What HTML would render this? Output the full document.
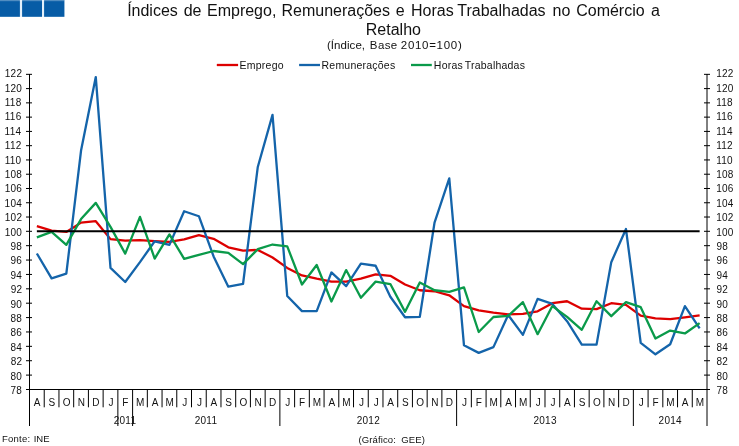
<!DOCTYPE html>
<html><head><meta charset="utf-8">
<style>
html,body{margin:0;padding:0;background:#fff;}
body{width:739px;height:446px;overflow:hidden;position:relative;}
svg{position:absolute;left:0;top:0;will-change:transform;font-family:"Liberation Sans",sans-serif;}
text{fill:#111111;}
.tk{stroke:#000;stroke-width:1;}
.sq{fill:#075ca6;}
</style></head><body>
<svg width="739" height="446" viewBox="0 0 739 446">
<rect x="0" y="0" width="64.4" height="16.8" fill="#e4f0fa"/>
<rect class="sq" x="0" y="0" width="19.9" height="16.8"/>
<rect class="sq" x="22.1" y="0" width="19.9" height="16.8"/>
<rect class="sq" x="44.1" y="0" width="20.3" height="16.8"/>
<rect x="0" y="0" width="64.4" height="1.2" fill="#ffffff" fill-opacity="0.3"/>
<text x="127.14" y="16.00" style="font-size:16px">Índices</text>
<text x="183.73" y="16.00" style="font-size:16px">de</text>
<text x="206.99" y="16.00" style="font-size:16px">Emprego,</text>
<text x="281.49" y="16.00" style="font-size:16px">Remunerações</text>
<text x="395.82" y="16.00" style="font-size:16px">e</text>
<text x="410.99" y="16.00" style="font-size:16px">Horas</text>
<text x="457.24" y="16.00" style="font-size:16px">Trabalhadas</text>
<text x="552.54" y="16.00" style="font-size:16px">no</text>
<text x="576.19" y="16.00" style="font-size:16px">Comércio</text>
<text x="651.12" y="16.00" style="font-size:16px">a</text>
<text x="365.79" y="34.70" style="font-size:16px">Retalho</text>
<text x="326.99" y="49.40" style="font-size:11.5px;letter-spacing:0.05px">(Índice,</text>
<text x="369.86" y="49.40" style="font-size:11.5px;letter-spacing:0.35px">Base</text>
<text x="400.82" y="49.40" style="font-size:11.5px;letter-spacing:0.7px">2010=100)</text>
<line x1="216.8" y1="65" x2="238.1" y2="65" stroke="#dd0000" stroke-width="2.3"/>
<line x1="299.1" y1="65" x2="320" y2="65" stroke="#1464aa" stroke-width="2.3"/>
<line x1="411" y1="65" x2="431.8" y2="65" stroke="#0a9a4a" stroke-width="2.3"/>
<text x="239.54" y="68.80" style="font-size:10.5px;letter-spacing:0.25px">Emprego</text>
<text x="321.54" y="68.80" style="font-size:10.5px;letter-spacing:0.22px">Remunerações</text>
<text x="433.84" y="68.80" style="font-size:10.5px;letter-spacing:0.22px">Horas</text>
<text x="464.76" y="68.80" style="font-size:10.5px;letter-spacing:0.22px">Trabalhadas</text>
<text x="10.56" y="394.00" style="font-size:10px;letter-spacing:0.25px">78</text>
<text x="716.49" y="394.00" style="font-size:10px;letter-spacing:0.25px">78</text>
<line x1="26" y1="375.10" x2="32" y2="375.10" class="tk"/>
<line x1="704" y1="375.10" x2="710" y2="375.10" class="tk"/>
<text x="10.52" y="379.60" style="font-size:10px;letter-spacing:0.25px">80</text>
<text x="716.57" y="379.60" style="font-size:10px;letter-spacing:0.25px">80</text>
<line x1="26" y1="360.72" x2="32" y2="360.72" class="tk"/>
<line x1="704" y1="360.72" x2="710" y2="360.72" class="tk"/>
<text x="10.63" y="365.20" style="font-size:10px;letter-spacing:0.25px">82</text>
<text x="716.57" y="365.20" style="font-size:10px;letter-spacing:0.25px">82</text>
<line x1="26" y1="346.34" x2="32" y2="346.34" class="tk"/>
<line x1="704" y1="346.34" x2="710" y2="346.34" class="tk"/>
<text x="10.42" y="350.80" style="font-size:10px;letter-spacing:0.25px">84</text>
<text x="716.57" y="350.80" style="font-size:10px;letter-spacing:0.25px">84</text>
<line x1="26" y1="331.96" x2="32" y2="331.96" class="tk"/>
<line x1="704" y1="331.96" x2="710" y2="331.96" class="tk"/>
<text x="10.57" y="336.40" style="font-size:10px;letter-spacing:0.25px">86</text>
<text x="716.57" y="336.40" style="font-size:10px;letter-spacing:0.25px">86</text>
<line x1="26" y1="317.58" x2="32" y2="317.58" class="tk"/>
<line x1="704" y1="317.58" x2="710" y2="317.58" class="tk"/>
<text x="10.56" y="322.00" style="font-size:10px;letter-spacing:0.25px">88</text>
<text x="716.57" y="322.00" style="font-size:10px;letter-spacing:0.25px">88</text>
<line x1="26" y1="303.20" x2="32" y2="303.20" class="tk"/>
<line x1="704" y1="303.20" x2="710" y2="303.20" class="tk"/>
<text x="10.52" y="307.60" style="font-size:10px;letter-spacing:0.25px">90</text>
<text x="716.53" y="307.60" style="font-size:10px;letter-spacing:0.25px">90</text>
<line x1="26" y1="288.82" x2="32" y2="288.82" class="tk"/>
<line x1="704" y1="288.82" x2="710" y2="288.82" class="tk"/>
<text x="10.63" y="293.20" style="font-size:10px;letter-spacing:0.25px">92</text>
<text x="716.53" y="293.20" style="font-size:10px;letter-spacing:0.25px">92</text>
<line x1="26" y1="274.44" x2="32" y2="274.44" class="tk"/>
<line x1="704" y1="274.44" x2="710" y2="274.44" class="tk"/>
<text x="10.42" y="278.80" style="font-size:10px;letter-spacing:0.25px">94</text>
<text x="716.53" y="278.80" style="font-size:10px;letter-spacing:0.25px">94</text>
<line x1="26" y1="260.06" x2="32" y2="260.06" class="tk"/>
<line x1="704" y1="260.06" x2="710" y2="260.06" class="tk"/>
<text x="10.57" y="264.40" style="font-size:10px;letter-spacing:0.25px">96</text>
<text x="716.53" y="264.40" style="font-size:10px;letter-spacing:0.25px">96</text>
<line x1="26" y1="245.68" x2="32" y2="245.68" class="tk"/>
<line x1="704" y1="245.68" x2="710" y2="245.68" class="tk"/>
<text x="10.56" y="250.00" style="font-size:10px;letter-spacing:0.25px">98</text>
<text x="716.53" y="250.00" style="font-size:10px;letter-spacing:0.25px">98</text>
<line x1="26" y1="231.30" x2="32" y2="231.30" class="tk"/>
<line x1="704" y1="231.30" x2="710" y2="231.30" class="tk"/>
<text x="4.71" y="235.60" style="font-size:10px;letter-spacing:0.25px">100</text>
<text x="716.24" y="235.60" style="font-size:10px;letter-spacing:0.25px">100</text>
<line x1="26" y1="217.03" x2="32" y2="217.03" class="tk"/>
<line x1="704" y1="217.03" x2="710" y2="217.03" class="tk"/>
<text x="4.82" y="221.20" style="font-size:10px;letter-spacing:0.25px">102</text>
<text x="716.24" y="221.20" style="font-size:10px;letter-spacing:0.25px">102</text>
<line x1="26" y1="202.76" x2="32" y2="202.76" class="tk"/>
<line x1="704" y1="202.76" x2="710" y2="202.76" class="tk"/>
<text x="4.61" y="206.80" style="font-size:10px;letter-spacing:0.25px">104</text>
<text x="716.24" y="206.80" style="font-size:10px;letter-spacing:0.25px">104</text>
<line x1="26" y1="188.49" x2="32" y2="188.49" class="tk"/>
<line x1="704" y1="188.49" x2="710" y2="188.49" class="tk"/>
<text x="4.75" y="192.40" style="font-size:10px;letter-spacing:0.25px">106</text>
<text x="716.24" y="192.40" style="font-size:10px;letter-spacing:0.25px">106</text>
<line x1="26" y1="174.22" x2="32" y2="174.22" class="tk"/>
<line x1="704" y1="174.22" x2="710" y2="174.22" class="tk"/>
<text x="4.75" y="178.00" style="font-size:10px;letter-spacing:0.25px">108</text>
<text x="716.24" y="178.00" style="font-size:10px;letter-spacing:0.25px">108</text>
<line x1="26" y1="159.95" x2="32" y2="159.95" class="tk"/>
<line x1="704" y1="159.95" x2="710" y2="159.95" class="tk"/>
<text x="4.71" y="163.60" style="font-size:10px;letter-spacing:0.25px">110</text>
<text x="716.24" y="163.60" style="font-size:10px;letter-spacing:0.25px">110</text>
<line x1="26" y1="145.68" x2="32" y2="145.68" class="tk"/>
<line x1="704" y1="145.68" x2="710" y2="145.68" class="tk"/>
<text x="4.82" y="149.20" style="font-size:10px;letter-spacing:0.25px">112</text>
<text x="716.24" y="149.20" style="font-size:10px;letter-spacing:0.25px">112</text>
<line x1="26" y1="131.41" x2="32" y2="131.41" class="tk"/>
<line x1="704" y1="131.41" x2="710" y2="131.41" class="tk"/>
<text x="4.61" y="134.80" style="font-size:10px;letter-spacing:0.25px">114</text>
<text x="716.24" y="134.80" style="font-size:10px;letter-spacing:0.25px">114</text>
<line x1="26" y1="117.14" x2="32" y2="117.14" class="tk"/>
<line x1="704" y1="117.14" x2="710" y2="117.14" class="tk"/>
<text x="4.75" y="120.40" style="font-size:10px;letter-spacing:0.25px">116</text>
<text x="716.24" y="120.40" style="font-size:10px;letter-spacing:0.25px">116</text>
<line x1="26" y1="102.87" x2="32" y2="102.87" class="tk"/>
<line x1="704" y1="102.87" x2="710" y2="102.87" class="tk"/>
<text x="4.75" y="106.00" style="font-size:10px;letter-spacing:0.25px">118</text>
<text x="716.24" y="106.00" style="font-size:10px;letter-spacing:0.25px">118</text>
<line x1="26" y1="88.60" x2="32" y2="88.60" class="tk"/>
<line x1="704" y1="88.60" x2="710" y2="88.60" class="tk"/>
<text x="4.71" y="91.60" style="font-size:10px;letter-spacing:0.25px">120</text>
<text x="716.24" y="91.60" style="font-size:10px;letter-spacing:0.25px">120</text>
<line x1="26" y1="74.33" x2="32" y2="74.33" class="tk"/>
<line x1="704" y1="74.33" x2="710" y2="74.33" class="tk"/>
<text x="4.82" y="77.20" style="font-size:10px;letter-spacing:0.25px">122</text>
<text x="716.24" y="77.20" style="font-size:10px;letter-spacing:0.25px">122</text>
<line x1="44.23" y1="389.5" x2="44.23" y2="407.3" class="tk"/>
<line x1="58.96" y1="389.5" x2="58.96" y2="407.3" class="tk"/>
<line x1="73.68" y1="389.5" x2="73.68" y2="407.3" class="tk"/>
<line x1="88.41" y1="389.5" x2="88.41" y2="407.3" class="tk"/>
<line x1="103.14" y1="389.5" x2="103.14" y2="407.3" class="tk"/>
<line x1="117.87" y1="389.5" x2="117.87" y2="426" class="tk"/>
<line x1="132.60" y1="389.5" x2="132.60" y2="426" class="tk"/>
<line x1="147.33" y1="389.5" x2="147.33" y2="407.3" class="tk"/>
<line x1="162.05" y1="389.5" x2="162.05" y2="407.3" class="tk"/>
<line x1="176.78" y1="389.5" x2="176.78" y2="407.3" class="tk"/>
<line x1="191.51" y1="389.5" x2="191.51" y2="407.3" class="tk"/>
<line x1="206.24" y1="389.5" x2="206.24" y2="407.3" class="tk"/>
<line x1="220.97" y1="389.5" x2="220.97" y2="407.3" class="tk"/>
<line x1="235.70" y1="389.5" x2="235.70" y2="407.3" class="tk"/>
<line x1="250.42" y1="389.5" x2="250.42" y2="407.3" class="tk"/>
<line x1="265.15" y1="389.5" x2="265.15" y2="407.3" class="tk"/>
<line x1="279.88" y1="389.5" x2="279.88" y2="426" class="tk"/>
<line x1="294.61" y1="389.5" x2="294.61" y2="407.3" class="tk"/>
<line x1="309.34" y1="389.5" x2="309.34" y2="407.3" class="tk"/>
<line x1="324.07" y1="389.5" x2="324.07" y2="407.3" class="tk"/>
<line x1="338.79" y1="389.5" x2="338.79" y2="407.3" class="tk"/>
<line x1="353.52" y1="389.5" x2="353.52" y2="407.3" class="tk"/>
<line x1="368.25" y1="389.5" x2="368.25" y2="407.3" class="tk"/>
<line x1="382.98" y1="389.5" x2="382.98" y2="407.3" class="tk"/>
<line x1="397.71" y1="389.5" x2="397.71" y2="407.3" class="tk"/>
<line x1="412.43" y1="389.5" x2="412.43" y2="407.3" class="tk"/>
<line x1="427.16" y1="389.5" x2="427.16" y2="407.3" class="tk"/>
<line x1="441.89" y1="389.5" x2="441.89" y2="407.3" class="tk"/>
<line x1="456.62" y1="389.5" x2="456.62" y2="426" class="tk"/>
<line x1="471.35" y1="389.5" x2="471.35" y2="407.3" class="tk"/>
<line x1="486.08" y1="389.5" x2="486.08" y2="407.3" class="tk"/>
<line x1="500.80" y1="389.5" x2="500.80" y2="407.3" class="tk"/>
<line x1="515.53" y1="389.5" x2="515.53" y2="407.3" class="tk"/>
<line x1="530.26" y1="389.5" x2="530.26" y2="407.3" class="tk"/>
<line x1="544.99" y1="389.5" x2="544.99" y2="407.3" class="tk"/>
<line x1="559.72" y1="389.5" x2="559.72" y2="407.3" class="tk"/>
<line x1="574.45" y1="389.5" x2="574.45" y2="407.3" class="tk"/>
<line x1="589.17" y1="389.5" x2="589.17" y2="407.3" class="tk"/>
<line x1="603.90" y1="389.5" x2="603.90" y2="407.3" class="tk"/>
<line x1="618.63" y1="389.5" x2="618.63" y2="407.3" class="tk"/>
<line x1="633.36" y1="389.5" x2="633.36" y2="426" class="tk"/>
<line x1="648.09" y1="389.5" x2="648.09" y2="407.3" class="tk"/>
<line x1="662.82" y1="389.5" x2="662.82" y2="407.3" class="tk"/>
<line x1="677.54" y1="389.5" x2="677.54" y2="407.3" class="tk"/>
<line x1="692.27" y1="389.5" x2="692.27" y2="407.3" class="tk"/>
<text x="33.83" y="406.00" style="font-size:10px">A</text>
<text x="48.56" y="406.00" style="font-size:10px">S</text>
<text x="62.73" y="406.00" style="font-size:10px">O</text>
<text x="77.74" y="406.00" style="font-size:10px">N</text>
<text x="92.30" y="406.00" style="font-size:10px">D</text>
<text x="108.60" y="406.00" style="font-size:10px">J</text>
<text x="122.27" y="406.00" style="font-size:10px">F</text>
<text x="136.10" y="406.00" style="font-size:10px">M</text>
<text x="151.66" y="406.00" style="font-size:10px">A</text>
<text x="165.55" y="406.00" style="font-size:10px">M</text>
<text x="182.24" y="406.00" style="font-size:10px">J</text>
<text x="196.97" y="406.00" style="font-size:10px">J</text>
<text x="210.57" y="406.00" style="font-size:10px">A</text>
<text x="225.30" y="406.00" style="font-size:10px">S</text>
<text x="239.47" y="406.00" style="font-size:10px">O</text>
<text x="254.47" y="406.00" style="font-size:10px">N</text>
<text x="269.03" y="406.00" style="font-size:10px">D</text>
<text x="285.34" y="406.00" style="font-size:10px">J</text>
<text x="299.01" y="406.00" style="font-size:10px">F</text>
<text x="312.84" y="406.00" style="font-size:10px">M</text>
<text x="328.39" y="406.00" style="font-size:10px">A</text>
<text x="342.29" y="406.00" style="font-size:10px">M</text>
<text x="358.98" y="406.00" style="font-size:10px">J</text>
<text x="373.71" y="406.00" style="font-size:10px">J</text>
<text x="387.31" y="406.00" style="font-size:10px">A</text>
<text x="402.04" y="406.00" style="font-size:10px">S</text>
<text x="416.21" y="406.00" style="font-size:10px">O</text>
<text x="431.21" y="406.00" style="font-size:10px">N</text>
<text x="445.77" y="406.00" style="font-size:10px">D</text>
<text x="462.08" y="406.00" style="font-size:10px">J</text>
<text x="475.75" y="406.00" style="font-size:10px">F</text>
<text x="489.58" y="406.00" style="font-size:10px">M</text>
<text x="505.13" y="406.00" style="font-size:10px">A</text>
<text x="519.03" y="406.00" style="font-size:10px">M</text>
<text x="535.72" y="406.00" style="font-size:10px">J</text>
<text x="550.45" y="406.00" style="font-size:10px">J</text>
<text x="564.05" y="406.00" style="font-size:10px">A</text>
<text x="578.78" y="406.00" style="font-size:10px">S</text>
<text x="592.95" y="406.00" style="font-size:10px">O</text>
<text x="607.95" y="406.00" style="font-size:10px">N</text>
<text x="622.51" y="406.00" style="font-size:10px">D</text>
<text x="638.82" y="406.00" style="font-size:10px">J</text>
<text x="652.49" y="406.00" style="font-size:10px">F</text>
<text x="666.31" y="406.00" style="font-size:10px">M</text>
<text x="681.87" y="406.00" style="font-size:10px">A</text>
<text x="695.77" y="406.00" style="font-size:10px">M</text>
<text x="113.73" y="424.20" style="font-size:10px;letter-spacing:0.25px">2011</text>
<text x="194.73" y="424.20" style="font-size:10px;letter-spacing:0.25px">2011</text>
<text x="356.75" y="424.20" style="font-size:10px;letter-spacing:0.25px">2012</text>
<text x="533.46" y="424.20" style="font-size:10px;letter-spacing:0.25px">2013</text>
<text x="658.58" y="424.20" style="font-size:10px;letter-spacing:0.25px">2014</text>
<line x1="29.5" y1="74" x2="29.5" y2="426" stroke="#000" stroke-width="1"/>
<line x1="707.0" y1="74" x2="707.0" y2="426" stroke="#000" stroke-width="1"/>
<line x1="26" y1="389.5" x2="710" y2="389.5" stroke="#000" stroke-width="1"/>
<polyline points="36.86,226.21 51.59,230.70 66.32,231.92 81.05,222.64 95.78,221.21 110.51,239.12 125.23,240.56 139.96,240.06 154.69,241.06 169.42,241.78 184.15,239.34 198.88,235.16 213.60,238.83 228.33,247.26 243.06,250.64 257.79,249.92 272.52,257.48 287.24,267.92 301.97,275.41 316.70,278.72 331.43,281.60 346.16,281.60 360.89,278.72 375.61,274.40 390.34,275.84 405.07,284.48 419.80,290.24 434.53,291.25 449.26,295.28 463.98,306.08 478.71,310.40 493.44,312.56 508.17,314.29 522.90,313.78 537.62,311.34 552.35,303.20 567.08,301.26 581.81,308.67 596.54,309.18 611.27,303.20 625.99,304.93 640.72,315.66 655.45,318.32 670.18,319.04 684.91,317.31 699.64,315.44" fill="none" stroke="#dd0000" stroke-width="2.3" stroke-linejoin="round"/>
<polyline points="36.86,253.52 51.59,278.36 66.32,273.68 81.05,150.57 95.78,77.08 110.51,267.92 125.23,281.96 139.96,262.16 154.69,241.28 169.42,244.88 184.15,211.22 198.88,216.22 213.60,256.40 228.33,286.64 243.06,283.76 257.79,166.98 272.52,114.90 287.24,296.00 301.97,311.12 316.70,311.12 331.43,272.46 346.16,286.14 360.89,263.60 375.61,265.76 390.34,296.72 405.07,317.24 419.80,316.88 434.53,222.64 449.26,178.40 463.98,345.32 478.71,352.88 493.44,347.12 508.17,315.01 522.90,334.88 537.62,298.88 552.35,303.92 567.08,321.20 581.81,344.60 596.54,344.60 611.27,262.16 625.99,229.06 640.72,342.80 655.45,354.32 670.18,344.24 684.91,306.08 699.64,328.40" fill="none" stroke="#1464aa" stroke-width="2.3" stroke-linejoin="round"/>
<polyline points="36.86,237.32 51.59,231.92 66.32,244.88 81.05,219.07 95.78,202.87 110.51,226.92 125.23,253.66 139.96,216.93 154.69,258.56 169.42,234.44 184.15,258.78 198.88,254.82 213.60,251.00 228.33,252.94 243.06,264.10 257.79,249.20 272.52,244.52 287.24,246.32 301.97,284.48 316.70,265.04 331.43,301.47 346.16,270.08 360.89,297.73 375.61,281.60 390.34,284.05 405.07,311.84 419.80,282.54 434.53,290.24 449.26,291.97 463.98,287.36 478.71,332.00 493.44,317.02 508.17,315.80 522.90,302.12 537.62,334.16 552.35,306.08 567.08,316.88 581.81,329.84 596.54,301.26 611.27,316.16 625.99,302.12 640.72,307.16 655.45,338.48 670.18,330.56 684.91,333.44 699.64,323.07" fill="none" stroke="#0a9a4a" stroke-width="2.3" stroke-linejoin="round"/>
<line x1="36.86" y1="231.2" x2="699.64" y2="231.2" stroke="#000" stroke-width="2"/>
<text x="1.92" y="442.00" style="font-size:9.5px;letter-spacing:0.24px">Fonte:</text>
<text x="33.72" y="442.00" style="font-size:9.5px">INE</text>
<text x="358.51" y="442.80" style="font-size:9.5px;letter-spacing:0.12px">(Gráfico:</text>
<text x="401.32" y="442.80" style="font-size:9.5px;letter-spacing:0.11px">GEE)</text>
</svg>
</body></html>
